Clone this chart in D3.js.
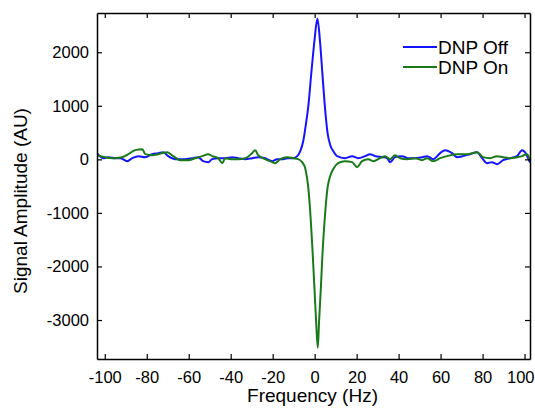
<!DOCTYPE html>
<html>
<head>
<meta charset="utf-8">
<script src="https://cdn.jsdelivr.net/npm/d3@7"></script>
<style>
  html, body { margin: 0; padding: 0; background: #fff; }
  svg { display: block; }
  text { font-family: "Liberation Sans", Arial, sans-serif; fill: #000; }
</style>
</head>
<body>
<svg id="chart" width="535" height="410"></svg>
<script>
// ---- data ----
const seriesNames = ["DNP Off", "DNP On"];
const freqOff = [-103.7, -100.7, -98.3, -95, -92.6, -89.3, -86.9, -84, -80.7, -77.4, -74.5, -72.1, -69.8, -66.4, -61.7, -57.9, -55.5, -53.1, -50.7, -48.8, -46, -42.6, -39.3, -36.4, -33.1, -29.8, -26.9, -23.6, -20.2, -17.9, -15, -12.6, -10.2, -8.3, -6.9, -5.5, -4.2, -3, -1.5, 0, 1.3, 2.6, 3.8, 5, 6.2, 7.5, 8.9, 10.7, 14.5, 17.9, 20.7, 24, 26.4, 28.8, 32.1, 34.5, 36, 38.3, 41.7, 44.5, 47.9, 51.2, 53.6, 56.4, 59.8, 62.1, 65.5, 67.9, 70.7, 74, 77.4, 79.8, 82.1, 84.5, 86.9, 89.8, 93.1, 96.4, 98.8, 100.2, 101.7, 102.6];
const ampOff = [116, 22, 41, 22, 22, -34, 22, 60, 41, 97, 116, 134, 60, 4, 4, 22, 41, -34, -52, 4, 22, 22, 41, 22, 4, 22, 41, 22, -34, 4, 4, 22, 22, 60, 150, 330, 650, 1000, 1650, 2250, 2630, 2180, 1540, 930, 480, 260, 150, 60, 22, 60, 22, 60, 97, 60, 41, 22, -52, 41, 60, 22, 22, 41, 60, 4, 116, 172, 116, 41, 60, 97, 134, 22, -71, -52, -90, -15, 22, 60, 172, 134, 22, -60];
const freqOn = [-103.7, -99.8, -96.4, -91.7, -88.8, -85.5, -82.1, -80.7, -77.4, -74.5, -70.2, -67.4, -64, -60.2, -56.9, -53.6, -50.7, -48.8, -46, -44, -42.6, -39.3, -36.4, -33.1, -29.8, -28.3, -26.9, -23.6, -20.2, -18.8, -16.4, -13.1, -10.2, -7.9, -6, -4.5, -3.6, -3, -1.8, -0.9, -0.1, 0.7, 1.5, 2.1, 2.95, 3.7, 4.7, 6.1, 7.5, 9, 11.2, 14.5, 17.9, 20.2, 22.6, 25.5, 27.9, 31.2, 33.6, 36, 38.3, 40.7, 44, 47.9, 51.2, 53.6, 56.4, 59.8, 63.1, 67.9, 72.6, 77.4, 80.2, 83.6, 86.9, 89.8, 93.1, 96.4, 98.8, 101.2, 102.6];
const ampOn = [78, 41, 22, 41, 97, 172, 190, 97, 78, 97, 134, 60, -15, -15, 22, 60, 97, 60, 22, -71, 22, 4, 4, 22, 116, 172, 78, 4, -52, -71, 4, 41, 22, 4, -52, -164, -354, -543, -1166, -1787, -2403, -3032, -3517, -3032, -2403, -1787, -1166, -543, -300, -170, -71, -34, -52, -146, -34, 4, -34, 22, 60, 4, 78, 22, 4, 22, -15, 22, -34, 22, 60, 97, 97, 134, 41, 22, 60, 41, 22, 41, 60, 97, -15];
const xTicks = [-100, -80, -60, -40, -20, 0, 20, 40, 60, 80, 100];
const yTicks = [-3000, -2000, -1000, 0, 1000, 2000];
const xDomain = [-103.7, 102.6];
const yDomain = [-3728, 2733];
const xLabel = "Frequency (Hz)";
const yLabel = "Signal Amplitude (AU)";
const colors = ["#1414ff", "#1a7a1a"];

// ---- layout ----
const plot = { left: 97, top: 13, right: 530, bottom: 359 };
const svg = d3.select("#chart");
const x = d3.scaleLinear().domain(xDomain).range([plot.left, plot.right]);
const y = d3.scaleLinear().domain(yDomain).range([plot.bottom, plot.top]);

svg.append("defs").append("clipPath").attr("id", "clip")
  .append("rect").attr("x", plot.left).attr("y", plot.top)
  .attr("width", plot.right - plot.left).attr("height", plot.bottom - plot.top);

// series
const series = [
  d3.zip(freqOff, ampOff),
  d3.zip(freqOn, ampOn)
];
const line = d3.line().x(d => x(d[0])).y(d => y(d[1])).curve(d3.curveMonotoneX);
const g = svg.append("g").attr("clip-path", "url(#clip)");
series.forEach((s, i) => {
  g.append("path").datum(s).attr("d", line)
    .attr("fill", "none").attr("stroke", colors[i])
    .attr("stroke-width", 2).attr("stroke-linejoin", "round");
});

// axes (MATLAB style: inward ticks on all sides)
const tickLen = 5;
const fmt = d => String(d);
const axB = d3.axisBottom(x).tickValues(xTicks).tickFormat(fmt).tickSizeInner(-tickLen).tickSizeOuter(0).tickPadding(12);
const axT = d3.axisTop(x).tickValues(xTicks).tickSizeInner(-tickLen).tickSizeOuter(0).tickFormat("");
const axL = d3.axisLeft(y).tickValues(yTicks).tickFormat(fmt).tickSizeInner(-tickLen).tickSizeOuter(0).tickPadding(8);
const axR = d3.axisRight(y).tickValues(yTicks).tickSizeInner(-tickLen).tickSizeOuter(0).tickFormat("");

function style(sel) {
  sel.selectAll("path.domain").attr("stroke", "#000").attr("stroke-width", 1.5);
  sel.selectAll(".tick line").attr("stroke", "#000").attr("stroke-width", 1.2);
  sel.selectAll(".tick text").attr("font-family", "Liberation Sans, Arial, sans-serif")
    .attr("font-size", 16.5).attr("fill", "#111");
}
const gB = svg.append("g").attr("transform", `translate(0,${plot.bottom})`).call(axB).call(style);
// keep the last label inside the page
gB.selectAll(".tick text").filter(d => d === xTicks[xTicks.length - 1])
  .attr("text-anchor", "end").attr("x", 534 - x(xTicks[xTicks.length - 1]));
svg.append("g").attr("transform", `translate(0,${plot.top})`).call(axT).call(style);
svg.append("g").attr("transform", `translate(${plot.left},0)`).call(axL).call(style);
svg.append("g").attr("transform", `translate(${plot.right},0)`).call(axR).call(style);

// axis labels
svg.append("text").attr("x", (plot.left + plot.right) / 2 - 1).attr("y", 402)
  .attr("text-anchor", "middle").attr("font-size", 19).text(xLabel);
svg.append("text").attr("transform", `translate(27,${(plot.top + plot.bottom) / 2 + 15}) rotate(-90)`)
  .attr("text-anchor", "middle").attr("font-size", 19).text(yLabel);

// legend
const leg = svg.append("g");
seriesNames.forEach((name, i) => {
  const ly = 47 + i * 20;
  leg.append("line").attr("x1", 403).attr("x2", 437).attr("y1", ly).attr("y2", ly)
    .attr("stroke", colors[i]).attr("stroke-width", 2);
  leg.append("text").attr("x", 438).attr("y", ly + 7).attr("font-size", 19).text(name);
});
</script>
</body>
</html>
